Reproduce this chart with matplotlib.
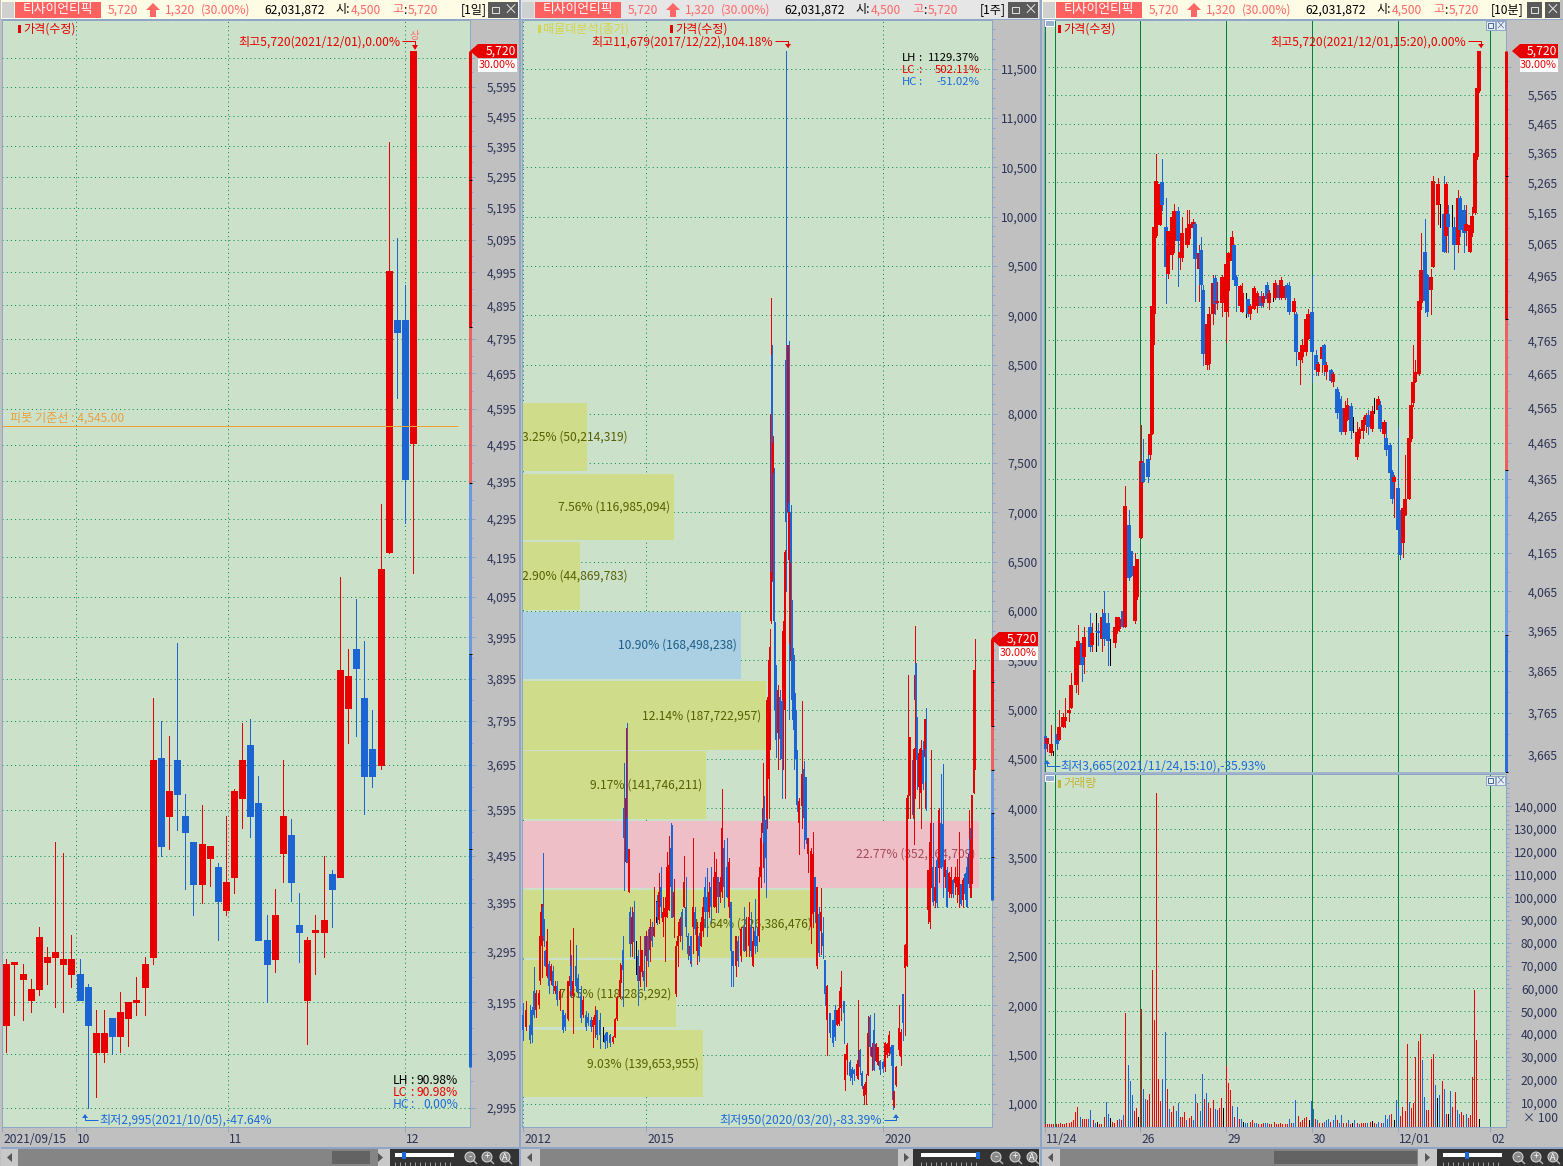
import numpy as np
import matplotlib
matplotlib.use("Agg")
import matplotlib.pyplot as plt
from matplotlib.patches import Rectangle, Polygon, Circle
from matplotlib.ticker import NullFormatter, FixedLocator
from matplotlib.transforms import ScaledTranslation

plt.rcParams['font.family'] = ['Noto Sans CJK KR', 'DejaVu Sans']

# ---------- daily candles (panel 1) ----------
d_open = [3150,3270,3240,3200,3220,3275,3285,3270,3250,3250,3225,3100,3100,3165,3130,3165,3195,3225,3285,3710,3580,3705,3580,3525,3435,3490,3470,3380,3450,3620,3740,3610,3320,3280,3500,3540,3350,3200,3335,3335,3455,3450,3825,3965,3850,3730,3695,4210,4850,4850,4500]
d_high = [3280,3275,3270,3240,3345,3305,3525,3500,3330,3280,3230,3180,3180,3165,3215,3195,3245,3285,3850,3795,3760,3980,3630,3525,3605,3515,3480,3580,3640,3790,3800,3670,3370,3425,3705,3575,3415,3325,3370,3495,3465,4145,3965,4090,3985,3820,4335,5410,5100,4955,5720]
d_low  = [3100,3170,3160,3175,3210,3230,3185,3175,3225,3200,2995,3015,3080,3095,3100,3110,3170,3170,3270,3495,3510,3550,3425,3370,3395,3430,3320,3370,3415,3555,3535,3320,3195,3255,3440,3400,3275,3115,3250,3285,3345,3450,3745,3760,3585,3645,3685,4205,4625,4285,4155]
d_close= [3270,3275,3250,3220,3325,3285,3295,3280,3280,3200,3150,3135,3135,3130,3175,3195,3200,3270,3705,3515,3635,3630,3545,3435,3520,3515,3400,3440,3635,3705,3580,3320,3270,3370,3580,3440,3335,3320,3340,3360,3425,3915,3900,3920,3670,3670,4165,5000,4815,4400,5720]
d_ticks = [2995+100*k for k in range(28)]
d_minor = [3045+100*k for k in range(27)]
d_hidden = [5695]
d_date_pos = [-0.5, 8.55, 27.2, 49.0]
d_date_lab = ['2021/09/15', '10', '11', '12']
pivot_price = 4545

# ---------- weekly candles (panel 2) ----------
w_bar = [0,3,7,9,11,13,16,17,19,20,21,22,24,26,28,30,32,34,37,40,42,45,47,48,50,53,55,58,60,63,65,68,70,72,74,77,80,82,84,87,90,92,94,97,98,100,101,103,104,106,107,109,111,113,115,117,119,121,123,125,127,129,131,133,134,136,138,140,142,144,146,148,149,151,153,155,157,159,161,163,165,167,168,170,172,174,176,178,180,182,184,186,188,191,193,195,197,199,201,204,206,208,210,213,215,218,221,223,226,228,230,232,234,236,238,240,241,243,244,246,247,248,249,250,251,252,253,255,257,259,260,262,263,265,266,267,268,269,270,271,272,273,274,276,279,281,283,285,288,290,292,294,296,298,300,302,304,307,310,312,314,316,318,321,322,324,327,329,331,334,335,337,339,341,343,345,347,349,351,353,355,357,360,362,364,366,368,370,371,373,376,378,380,382,384,385,387,390,391,392,393,394,396,398,400,402,403,405,407,408,410,412,414,416,418,420,422,424,426,428,430,432,434,436,438,440,442,444,446,447,448,449,451,452]
w_open = [1900,1780,1800,1950,2150,1950,2000,2250,2600,3000,2850,2550,2300,2420,2250,2350,2150,2200,2050,1950,1900,1860,2200,2400,2100,2400,2280,2100,1900,1900,1880,1850,1780,1800,1950,1850,1650,1700,1730,1700,1630,1680,1860,2090,2250,2560,4000,3450,3900,3150,2950,2620,2950,2500,2500,2250,2340,2350,2500,2700,2560,2800,2700,2950,3050,2870,3200,2850,2900,2900,2970,3600,3400,2900,2120,2600,2700,2950,3000,3000,2700,2500,2700,2800,2950,2550,2700,2600,2750,3200,3100,2950,3200,3000,3000,3300,3100,3150,3600,3400,3000,3050,2550,2400,2650,2500,2800,2550,2600,2800,2400,2750,2700,2700,3300,3750,4000,3880,3900,4300,5050,5900,8600,6300,7400,5890,5350,4760,5130,5090,5100,5000,8550,7000,7100,5665,7000,6110,5620,5550,5100,5000,4590,3850,4020,4400,4320,3540,2800,2930,3300,2400,2930,2750,2730,2460,1850,1920,1850,1950,1800,1810,1970,2040,1240,1450,1430,1360,1350,1280,1350,1550,1310,1080,1090,1290,1880,1480,1750,1440,1400,1440,1430,1380,1500,1520,1580,1600,980,1190,1550,1480,2120,2380,2400,4000,4120,4490,3900,5100,5470,4930,4220,4150,4590,4520,4600,2970,2850,3200,3400,3060,3470,3390,3850,3840,3300,3370,3150,3130,3270,3240,3200,3120,3230,3070,3330,3400,3230,3690,3100,3240,4150,4500]
w_high = [2020,2040,2000,1985,2390,2155,2155,2950,3030,3550,2880,2560,2780,2450,2420,2400,2250,2250,2170,1950,1920,2250,2660,2510,2790,2610,2320,2200,2100,1940,1920,1880,1880,1990,1950,1920,1780,1720,1730,1710,1690,1870,2100,2430,2410,2700,4454,4810,4860,3590,3000,3000,3060,2650,2560,2700,2560,2700,2750,2780,2880,2850,3200,3060,3120,3340,3400,3100,3100,3560,3720,3850,3830,3280,2650,2850,2900,2980,3520,3300,2730,2650,2700,3700,3000,2850,2730,2900,3100,3300,3390,3250,3400,3560,3490,3300,3300,4200,3680,3700,3500,3050,2550,2700,2700,2800,3000,2900,3050,2950,2800,3080,2800,3400,3850,4454,4120,3900,5130,5620,5820,9170,8700,7780,7450,5890,5450,5250,5200,5100,5900,6620,11679,8700,8740,7000,7075,6110,5620,5550,5170,5000,4590,4100,5090,4480,4320,3700,3600,3760,3300,3200,3000,3190,2900,2460,2210,1920,1850,2000,1950,2150,2350,2040,1510,1620,1450,1380,1360,1420,2050,1560,1340,1200,1300,1890,1900,1620,1920,1620,1580,1450,1440,1630,1620,1740,1600,1600,1130,1390,2000,1760,2120,2620,4100,5350,4720,4490,4610,5850,5470,4930,4600,4690,4680,4900,5020,3370,3680,4590,3850,3400,3500,4000,4350,4450,3480,3400,3350,3400,3280,3400,3490,3760,3230,3290,3340,3500,3980,3800,3700,4130,5400,5720]
w_low  = [1650,1750,1620,1630,1885,1885,1970,2220,2290,2700,2600,2400,2290,2130,2220,2130,2130,2000,1950,1730,1750,1850,2120,2090,1720,2150,2090,1830,1880,1750,1800,1740,1580,1680,1660,1570,1640,1570,1580,1590,1620,1680,1850,2080,2240,1990,3170,3450,3450,3150,2500,2500,2480,2320,2000,2200,2300,2160,2200,2400,2450,2600,2700,2850,2830,2840,2900,2700,2450,2900,2970,2900,2900,2690,2100,2400,2650,2570,3000,2700,2470,2430,2400,2530,2720,2420,2450,2600,2700,2800,2700,2900,2850,3000,2950,2950,3050,3100,3000,3100,2900,2200,2200,2300,2400,2450,2550,2500,2500,2500,2400,2530,2550,2650,3200,3400,3250,3100,3800,3900,4600,5875,6300,6300,5890,4700,4520,4400,4500,4100,4400,4100,6200,6530,4900,5500,5950,4900,4800,4400,4700,4300,3970,3540,3800,3600,3650,3350,2630,2800,2850,2380,2500,2520,2480,2000,1500,1680,1590,1650,1800,1800,1850,1615,1140,1300,1240,1200,1240,1260,1250,1300,1160,1000,1000,1290,1500,1350,1350,1440,1400,1300,1330,1330,1480,1500,1400,950,970,1180,1500,1400,1650,1700,2400,3900,3900,3900,3640,4100,4800,4200,4000,3800,4200,4000,3980,2840,2790,3200,3020,3000,3000,3250,3390,3100,3200,3000,3100,3100,3100,3130,3050,3000,3020,3000,3080,3000,3200,3100,3100,3240,4150,4400]
w_close= [1750,1950,1650,1700,1900,2130,2130,2700,3030,2700,2650,2400,2650,2200,2400,2200,2200,2050,2150,1750,1780,2250,2300,2150,2250,2200,2150,1870,2050,1780,1820,1780,1850,1900,1700,1700,1650,1620,1640,1620,1680,1860,2080,2260,2400,2360,3700,4100,3450,3590,2620,2900,2640,2500,2250,2400,2560,2250,2700,2450,2800,2650,2800,2950,2900,3150,3000,2950,2990,3400,3420,3200,3100,3150,2600,2700,2880,2700,3250,2800,2520,2600,2450,3000,2780,2800,2500,2850,3000,2950,2950,3150,3000,3300,3350,3100,3250,3800,3200,3100,3450,2550,2400,2700,2450,2780,2550,2800,2900,2550,2650,2600,2600,3300,3700,4000,3650,3500,5100,5500,5640,8000,6400,7700,5900,5000,4860,5200,4700,4500,5800,6600,6900,8700,7000,7000,6500,5100,5100,5000,4800,4500,4030,4070,4350,3900,3680,3700,3570,3540,2950,3200,2530,2950,2600,2120,2200,1720,1620,1680,1950,1970,2190,1920,1510,1600,1280,1260,1300,1410,1450,1380,1180,1180,1220,1720,1580,1580,1350,1610,1580,1350,1360,1620,1610,1700,1510,1040,1130,1380,1770,1730,1820,2610,4100,4130,4720,3930,4600,5350,5100,4490,4560,4610,4250,4900,4270,3370,3660,3850,3050,3200,3040,3980,3390,3400,3470,3000,3340,3300,3130,3300,3300,3300,3030,3270,3130,3000,3540,3200,3690,4130,5400,5400]
w_ticks = [1000+500*k for k in range(22)]
w_minor = [900+100*k for k in range(112)]
w_date_pos = [0, 123, 360]
w_date_lab = ['2012', '2015', '2020']

# volume-by-price profile (panel 2)
prof_lo  = [1071,1781,2481,3191,3890,4590,5310,6010,6720,7420]
prof_hi  = [1750,2460,3170,3870,4580,5290,5990,6700,7390,8110]
prof_pct = [9.03,7.65,14.64,22.77,9.17,12.14,10.90,2.90,7.56,3.25]
prof_vol = ['139,653,955','118,286,292','226,386,476','352,164,709','141,746,211','187,722,957','168,498,238','44,869,783','116,985,094','50,214,319']
prof_kind= ['g','g','g','p','g','g','b','g','g','g']

# ---------- 10-minute candles (panel 3) ----------
m_bar = [0,1,3,4,6,7,9,10,12,13,15,16,18,19,22,23,25,26,28,29,31,32,34,35,36,38,39,41,42,44,45,47,48,50,51,52,53,54,56,57,59,60,62,63,65,66,67,69,70,72,73,75,76,77,79,80,82,83,84,86,88,89,91,92,93,95,96,98,99,100,102,103,105,106,108,109,111,112,114,115,117,118,119,121,122,124,125,127,128,130,132,133,135,136,137,139,140,142,143,144,146,147,149,150,152,153,155,156,157,159,160,162,163,165,166,168,169,170,171,172,173,174,175,177,178,179,180,182,183,185,186,188,189,191,192,194,195,196,198,199,201,202,204,205,207,208,209,210,211]
m_open = [3710,3690,3670,3670,3715,3700,3730,3745,3765,3775,3830,3880,3935,3900,3975,3930,3965,3965,3945,4010,3985,3945,3935,3965,3970,4015,3975,4240,4170,3990,4050,4205,4410,4420,4430,4490,4845,5090,5125,5265,5120,4970,5030,5075,5170,5020,5020,5060,5080,5115,5130,4985,5045,4920,4690,4695,4845,4955,4880,4880,4850,4915,5010,5060,4960,4870,4850,4890,4890,4845,4860,4870,4900,4880,4935,4880,4895,4895,4935,4895,4895,4935,4930,4850,4845,4705,4715,4730,4770,4850,4720,4670,4710,4750,4670,4675,4640,4620,4590,4565,4495,4530,4570,4510,4425,4475,4500,4515,4545,4505,4570,4560,4575,4490,4480,4460,4385,4355,4395,4340,4280,4190,4265,4310,4475,4580,4640,4665,4880,5040,4965,4920,4990,5190,5160,5160,5090,5160,5150,5120,5060,5215,5175,5105,5040,5100,5165,5350,5580]
m_high = [3710,3705,3735,3675,3720,3770,3765,3800,3815,3860,3925,3980,3945,3975,4010,3985,4010,3985,4020,4065,4010,3945,3995,4000,4000,4030,4345,4280,4170,4165,4150,4515,4475,4460,4495,4870,5120,5360,5265,5345,5215,5105,5165,5195,5185,5065,5150,5175,5175,5145,5135,5060,5085,4935,4825,4865,4965,4965,4945,4965,5000,5040,5105,5060,4965,4935,4940,4910,4890,4875,4930,4915,4915,4910,4945,4920,4915,4950,4945,4960,4935,4940,4945,4895,4850,4750,4770,4840,4860,4965,4735,4700,4750,4755,4700,4680,4670,4625,4610,4600,4585,4595,4580,4540,4525,4510,4540,4550,4560,4570,4595,4600,4585,4530,4525,4465,4390,4375,4395,4510,4280,4285,4430,4490,4590,4750,4705,4885,5100,5145,4970,4985,5285,5280,5195,5285,5265,5190,5190,5150,5240,5220,5190,5190,5130,5185,5380,5590,5720]
m_low  = [3670,3675,3665,3665,3680,3700,3730,3730,3745,3775,3815,3810,3840,3860,3915,3915,3915,3930,3915,3930,3880,3880,3925,3960,3965,3975,3975,4095,4105,3985,4045,4205,4355,4355,4420,4490,4755,5085,5125,5175,4880,4955,4985,5040,4930,4985,5010,5055,5065,5075,4885,4885,4890,4690,4680,4680,4815,4845,4860,4840,4760,4840,5010,4945,4855,4860,4850,4835,4840,4830,4860,4850,4865,4870,4885,4860,4885,4890,4890,4890,4890,4890,4845,4840,4690,4635,4700,4720,4770,4640,4660,4660,4670,4660,4650,4640,4630,4535,4530,4490,4490,4530,4480,4495,4420,4465,4480,4495,4490,4500,4550,4555,4500,4480,4430,4375,4300,4260,4395,4220,4150,4155,4265,4310,4470,4570,4640,4660,4860,4850,4840,4845,4990,5130,5120,5040,5040,5040,5120,4985,5040,5090,5040,5060,5040,5090,5160,5345,5575]
m_close= [3680,3705,3690,3670,3690,3730,3755,3755,3770,3830,3925,3940,3880,3950,3925,3960,3965,3960,4000,3945,3940,3945,3975,4000,3995,3975,4290,4100,4105,4130,4150,4415,4355,4370,4490,4870,5120,5270,5260,5190,4990,5105,5150,5170,5075,5040,5100,5115,5130,5135,5015,5035,4935,4725,4815,4845,4940,4875,4885,4960,5000,5035,5085,4950,4930,4930,4910,4890,4845,4870,4925,4910,4870,4900,4890,4910,4895,4940,4895,4950,4930,4895,4850,4885,4730,4730,4750,4830,4845,4730,4675,4695,4745,4690,4690,4645,4665,4550,4555,4495,4565,4575,4500,4510,4495,4505,4530,4545,4510,4555,4570,4590,4505,4525,4445,4380,4310,4370,4395,4225,4160,4285,4310,4480,4575,4640,4670,4885,4980,4885,4850,4960,5270,5260,5160,5040,5260,5120,5150,5060,5215,5110,5100,5130,5125,5155,5365,5590,5720]
m_ticks = [3665+100*k for k in range(21)]
m_minor = [3715+100*k for k in range(20)]
m_hidden = [5665]
m_date_pos = [0, 46.5, 88.3, 130, 171.8, 216.5]
m_date_lab = ['11/24', '26', '29', '30', '12/01', '02']
m_session_lines = [0, 5.2, 46.5, 88.3, 130, 171.8, 216.5]

# volume, in thousands
vol_k = [.3,.3,.3,.3,.3,.3,.3,.8,.4,.3,
 .8,.8,1.2,2,5.5,8,3.5,2.5,2.5,2.5,
 2.5,6.5,2,.8,1.5,.5,.5,3.5,10,5,
 3,1.5,1,2,2.5,2,4.5,49,26.5,19.5,
 13,6,7.5,3.5,51,16,11.5,11,13.5,68,
 46,146,20,10.5,20,41,16,7,5.5,8.5,
 6,9.5,3.5,3.5,5.5,2,3,4,2,13.5,
 9.5,6,22.5,11.5,14,9.5,7.5,11,7,6.5,
 7.5,12,7.5,26,18.5,15.5,8.5,3.5,8,2.5,
 2.5,1.5,1,1,1.5,2,.8,.8,.4,.4,
 .8,.8,.8,.4,.4,1.5,.6,.4,1,.4,
 .5,.5,2.5,1,1,11,4,1.5,2,3,
 3.5,2,10.5,7,2.5,2,.8,1,1.5,2,
 2.5,1.5,2,4.5,2,1,4.5,1,1,2,
 .3,1,2,1,.6,.8,.8,.8,.8,1.5,
 1.8,1,.5,1.2,.8,1,4.5,2.5,4.5,5,
 2,11,8,4,8,6,35.5,10,7.5,9.5,
 30,37,40,28.5,12.5,6.5,6.5,29,31,17.5,
 12,13,19.5,16,5,5,15,8,14.5,6.5,
 5,5.5,4.5,5,3,4.5,21,59.5,37.5,2.5]
vol_dir = ('RRRRRRRRRR' 'RRRRRRBRRR' 'BBRBKRRRBB' 'KRRRBRBRBB' 'BRRKRBBRRR'
           'RRRRBBRBRR' 'BBRRRBRRBB' 'RBBRBRRRBB' 'RRKRRRBRBR' 'BKBBRRBBRR'
           'RBBRRRRRRR' 'RRBRBBRRRR' 'RKBBRBRRBB' 'BRBBRBBRRB' 'RKBRBRRRBR'
           'KRBBRBBBBR' 'KBBRRRRBRR' 'RRRBBRRRRB' 'KBRBRKBRRB' 'BRRBRRRRRK')
vol_ticks = [10000*k for k in range(1, 15)]
vol_minor = [2000*k for k in range(1, 76)]

gauge_levels = [5720, 5285, 4830, 4390, 3955, 3510, 3070]
gauge_colors = ['#e80000', '#e60a0a', '#ee5f5f', '#6d98e4', '#2a6dd6', '#1c66d2']

# ---------- style ----------
W, H = 1563, 1166
BG = '#cce1c9'; GRAY = '#c0c0c0'; EDGE = '#8fa6c8'; GRID = '#008a4c'
UP = '#e80000'; DOWN = '#1c64d2'; DOJI = '#000000'; LAB = '#2c3355'
FS = 8.7
PX = 0.72

fig = plt.figure(figsize=(W/100, H/100), dpi=100, facecolor=GRAY)

def px_axes(x0, y0, x1, y1, z=1):
    ax = fig.add_axes([x0/W, 1-y1/H, (x1-x0)/W, (y1-y0)/H], zorder=z)
    ax.set_facecolor(BG)
    for s in ax.spines.values():
        s.set_color(EDGE); s.set_linewidth(PX)
    return ax

def style_y(ax, ticks, minor, rpx, hidden=()):
    ax.yaxis.tick_right()
    ax.set_yticks(ticks)
    ax.set_yticklabels(['' if t in hidden else f'{t:,}' for t in ticks], fontsize=FS, color=LAB)
    ax.yaxis.set_minor_locator(FixedLocator(minor))
    ax.yaxis.set_minor_formatter(NullFormatter())
    ax.tick_params(axis='y', which='major', length=5*PX, width=PX, color=EDGE, pad=(rpx-5)*PX)
    ax.tick_params(axis='y', which='minor', length=3*PX, width=PX, color=EDGE)
    for l in ax.get_yticklabels():
        l.set_ha('right')
    ax.grid(axis='y', which='major', color=GRID, lw=PX, ls=(0, (1, 3.2)))
    ax.set_axisbelow(True)

def style_x(ax, pos, labels, vgrid=True):
    ax.set_xticks(pos)
    ax.set_xticklabels(labels, fontsize=FS, color=LAB, ha='left')
    ax.tick_params(axis='x', length=5*PX, width=PX, color=EDGE, pad=1)
    off = ScaledTranslation(1/100, 0, fig.dpi_scale_trans)
    for l in ax.get_xticklabels():
        l.set_transform(l.get_transform()+off)
    if vgrid:
        ax.grid(axis='x', color=GRID, lw=PX, ls=(0, (1, 3.2)))

def candles(ax, x, o, h, l, c, wick, body, z=3):
    xs, lo, hi, cols, lws = [], [], [], [], []
    for xi, oi, hi_, li, ci in zip(x, o, h, l, c, strict=True):
        col = UP if ci > oi else DOWN if ci < oi else DOJI
        xs += [xi, xi]; lo += [li, min(oi, ci)]; hi += [hi_, max(oi, ci)]
        cols += [col, col]; lws += [wick*PX, body*PX]
    ax.vlines(xs, lo, hi, colors=cols, linewidths=lws, capstyle='butt', zorder=z,
              antialiased=False, snap=True)

def gauge(ax, floor):
    lv = np.maximum(gauge_levels, floor)
    ax.vlines([1.0]*6, lv[1:], lv[:-1], colors=gauge_colors, linewidths=3*PX,
              transform=ax.get_yaxis_transform(), clip_on=False, capstyle='butt', zorder=6)
    ax.hlines(lv[1:-1], 0.9985, 1.0045, colors='#000000', linewidths=PX,
              transform=ax.get_yaxis_transform(), clip_on=False, zorder=7)

# ---------- panel 1 ----------
ax1 = px_axes(2, 20, 470, 1127)
ax1.set_yscale('log')
candles(ax1, np.arange(len(d_open)), d_open, d_high, d_low, d_close, 1, 7)
ax1.hlines(pivot_price, 0, 0.974, colors='#f0a030', linewidths=PX, transform=ax1.get_yaxis_transform(), zorder=4)
style_y(ax1, d_ticks, d_minor, 47, d_hidden)
style_x(ax1, d_date_pos, d_date_lab)
ax1.set_xlim(-0.53, 57.0)
ax1.set_ylim(2960, 5829)
gauge(ax1, 2960)

# ---------- panel 2 ----------
ax2 = px_axes(522, 20, 992, 1127)
WEEKS_PER_PCT = 20.07
pcol = {'g': '#cfdc8a', 'b': '#abcfe3', 'p': '#efbfc8'}
tcol = {'g': '#566000', 'b': '#1d5d88', 'p': '#a84858'}
for lo_, hi_, pct, vol, k in zip(prof_lo, prof_hi, prof_pct, prof_vol, prof_kind):
    ax2.barh((lo_+hi_)/2, pct*WEEKS_PER_PCT, height=hi_-lo_, left=-1, color=pcol[k], zorder=1.5)
    s = f'{pct:.2f}% ({vol})'
    if pct < 5:
        ax2.text(-1, (lo_+hi_)/2, s, fontsize=FS, color=tcol[k], ha='left', va='center', zorder=1.7)
    else:
        ax2.text(-1+pct*WEEKS_PER_PCT-4, (lo_+hi_)/2, s, fontsize=FS, color=tcol[k], ha='right', va='center', zorder=1.7)
candles(ax2, w_bar, w_open, w_high, w_low, w_close, 1, 2)
style_y(ax2, w_ticks, w_minor, 46)
style_x(ax2, w_date_pos, w_date_lab)
ax2.set_xlim(-1, 469)
ax2.set_ylim(767, 11994)
gauge(ax2, 767)

# ---------- panel 3 ----------
ax3 = px_axes(1044, 20, 1506, 772)
ax3.set_yscale('log')
for xv in m_session_lines:
    ax3.axvline(xv, color='#00803c', lw=PX, zorder=1)
candles(ax3, m_bar, m_open, m_high, m_low, m_close, 1, 2.5)
style_y(ax3, m_ticks, m_minor, 52, m_hidden)
ax3.set_xticks([])
ax3.set_xlim(-0.33, 224.3)
ax3.set_ylim(3626, 5835)
gauge(ax3, 3626)

ax4 = px_axes(1044, 774, 1506, 1127)
for xv in m_session_lines:
    ax4.axvline(xv, color='#00803c', lw=PX, zorder=1)
vbars = np.linspace(0, 211, len(vol_k))
cmap = {'R': '#f00000', 'B': '#1c64d2', 'K': '#000000'}
VOL_FLOOR = -880
ax4.vlines(vbars, VOL_FLOOR, np.array(vol_k)*1000, colors=[cmap[c] for c in vol_dir],
           linewidths=PX, capstyle='butt', zorder=3, antialiased=False, snap=True)
style_y(ax4, vol_ticks, vol_minor, 52)
style_x(ax4, m_date_pos, m_date_lab, vgrid=False)
ax4.set_xlim(-0.33, 224.3)
ax4.set_ylim(VOL_FLOOR, 154150)

# ---------- chrome overlay (pixel coordinates) ----------
ch = fig.add_axes([0, 0, 1, 1], zorder=20)
ch.set_xlim(0, W); ch.set_ylim(H, 0); ch.axis('off'); ch.patch.set_alpha(0)

def R(x0, y0, x1, y1, c, z=1, ec='none'):
    ch.add_patch(Rectangle((x0, y0), x1-x0, y1-y0, fc=c, ec=ec, lw=PX, zorder=z))
def T(x, y, s, c='#000000', ha='left', fs=FS, z=5):
    ch.text(x, y, s, color=c, ha=ha, va='center', fontsize=fs, zorder=z)
def P(pts, c, z=4):
    ch.add_patch(Polygon(pts, closed=True, fc=c, ec='none', zorder=z))
def L(xs, ys, c, lw=1, z=4):
    ch.plot(xs, ys, color=c, lw=lw*PX, zorder=z, solid_capstyle='butt')

TR = '#ff6666'
def title(off, bg, tag, tag_x, btn_x):
    x0 = off+1
    R(x0, 0, off+519, 19, bg)
    R(x0+1, 2, off+14, 18, '#d0d0d0')
    R(off+15, 2, off+101, 18, '#ff6060')
    T(off+58, 10, '티사이언티픽', '#ffffff', 'center', 9.2)
    T(off+108, 10, '5,720', TR)
    P([(off+153, 3), (off+160, 10), (off+156, 10), (off+156, 17), (off+150, 17), (off+150, 10), (off+146, 10)], TR)
    T(off+165, 10, '1,320', TR)
    T(off+201, 10, '(30.00%)', TR)
    T(off+264, 10, '62,031,872', '#000000')
    T(off+335, 10, '시:', '#000000')
    T(off+351, 10, '4,500', TR)
    T(off+392, 10, '고', TR)
    T(off+403, 10, ':', '#000000')
    T(off+408, 10, '5,720', TR)
    T(tag_x, 10, tag, '#000000', 'right')
    for bx in btn_x:
        R(bx, 2, bx+15, 18, '#5a5a5a')
    R(btn_x[0]+4, 7, btn_x[0]+11, 13, 'none', ec='#e0e0e0', z=6)
    T(btn_x[1]+7.5, 10, '×', '#e8e8e8', 'center', 10)

title(0, '#fffce6', '[1일]', 487, [488, 503])
title(520, '#e6e6e6', '[1주]', 1006, [1008, 1023])
title(1041, '#fffce6', '[10분]', 1524, [1527, 1545])
for xv in (519.5, 1040.5):
    R(xv-1, 0, xv+1, 1166, EDGE, z=2)
for x0, x1 in ((1, 519), (521, 1040), (1042, 1563)):
    R(x0, 19, x1, 20, EDGE, z=2)
    R(x0, 1147, x1, 1148.5, EDGE, z=2)
R(1044, 772, 1506, 774, '#a0b4cc', z=2)

def legend(x, y, s, c):
    R(x, y-4, x+3, y+4, c)
    T(x+5, y, s, c)

red = '#e80000'; blue = '#1c6ad8'; yel = '#c4b438'
legend(18, 29, '가격(수정)', red)
T(400, 42, '최고5,720(2021/12/01),0.00%', red, 'right')
L([402, 415, 415], [41, 41, 47], red)
P([(412, 45), (418, 45), (415, 50)], red)
T(414, 36, '상', '#ff7070', 'center', 7.5)
T(10, 418, '피봇 기준선 : 4,545.00', '#e8a040')
def stats(x0, xc, xr, ys, labs, fs):
    for y, (a, v), c in zip(ys, labs, ('#000000', '#e80000', blue)):
        T(x0, y, a, c, fs=fs); T(xc, y, ':', c, fs=fs); T(xr, y, v, c, 'right', fs=fs)
stats(393, 410, 458, (1080, 1092, 1104), (('LH', '90.98%'), ('LC', '90.98%'), ('HC', '0.00%')), FS)
T(99, 1120, '최저2,995(2021/10/05),-47.64%', blue)
L([85, 85, 98], [1115, 1120, 1120], blue)
P([(82, 1118), (88, 1118), (85, 1114)], blue)

T(543, 29, '매물대분석(종가)', '#d6d24a')
R(538, 25, 541, 33, '#d6d24a')
legend(670, 29, '가격(수정)', red)
T(773, 42, '최고11,679(2017/12/22),104.18%', red, 'right')
L([775, 788, 788], [41, 41, 47], red)
P([(785, 44), (791, 44), (788, 48)], red)
stats(902, 918, 980, (58, 70, 82), (('LH', '1129.37%'), ('LC', '502.11%'), ('HC', '-51.02%')), 8.2)
T(882, 1120, '최저950(2020/03/20),-83.39%', blue, 'right')
L([884, 896, 896], [1120, 1120, 1115], blue)
P([(893, 1118), (899, 1118), (896, 1114)], blue)

legend(1058, 29, '가격(수정)', red)
T(1466, 42, '최고5,720(2021/12/01,15:20),0.00%', red, 'right')
L([1468, 1481, 1481], [41, 41, 47], red)
P([(1478, 44), (1484, 44), (1481, 48)], red)
T(1060, 766, '최저3,665(2021/11/24,15:10),-35.93%', blue)
L([1047, 1047, 1060], [761, 766, 766], blue)
P([(1044, 764), (1050, 764), (1047, 760)], blue)
legend(1058, 784, '거래량', yel)
T(1558, 1118, '× 100', LAB, 'right')
for y0 in (20, 775):
    R(1045, y0, 1054, y0+6, '#9ab0d0', ec='#ffffff', z=4)
    for bx in (1486, 1496):
        R(bx, y0+1, bx+9, y0+10, '#e8eef4', ec='#8fa6c8', z=4)
    R(1488, y0+3, 1493, y0+8, 'none', ec='#4a6a96', z=5)
    T(1500.5, y0+5.5, '×', '#4a6a96', 'center', 7)

def pricebox(x0, x1, y):
    P([(x0-8, y), (x0, y-7), (x0, y+7)], '#e80000')
    R(x0, y-7, x1, y+7, '#e80000')
    T(x1-1, y, '5,720', '#ffffff', 'right')
    R(x0, y+8, x1, y+21, '#ffffff')
    T(x1-1, y+14.5, '30.00%', '#e80000', 'right', 7.9)
pricebox(478, 517, 51)
pricebox(999, 1038, 639)
pricebox(1520, 1558, 51)

def scroll(off_l, arrow_l, tr0, tr1, thumb, arrow_r, dv, dark1, sl0, sl1, knob, icons):
    R(off_l, 1149, dark1, 1166, '#c8c8c8')
    P([(arrow_l+5, 1153), (arrow_l+5, 1162), (arrow_l, 1157.5)], '#555555')
    R(tr0, 1149, tr1, 1166, '#858585')
    if thumb:
        R(thumb[0], 1151, thumb[1], 1164, '#636363')
    P([(arrow_r, 1153), (arrow_r, 1162), (arrow_r+5, 1157.5)], '#555555')
    R(dv, 1149, dark1, 1166, '#333333')
    R(sl0, 1153, sl1, 1157, '#ffffff', z=3)
    R(knob-2, 1152, knob+2, 1159, '#1c6ad8', z=4)
    for tx in range(sl0, sl1+1, 5):
        L([tx, tx], [1162, 1166], '#9a9a9a', z=3)
    for ix, sym in zip(icons, '-+A'):
        ch.add_patch(Circle((ix, 1157), 5, fc='#8a8a8a', ec='#d8d8d8', lw=PX, zorder=4))
        T(ix, 1157, sym, '#ffffff', 'center', 6.5, z=6)
        L([ix+3, ix+7], [1160, 1164], '#b0b0b0', 1.5, z=3)
scroll(1, 7, 18, 378, (332, 370), 378, 390, 519, 395, 454, 404, (470, 487, 505))
scroll(521, 527, 540, 898, None, 904, 913, 1039, 921, 980, 978, (996, 1015, 1032))
scroll(1042, 1048, 1060, 1418, (1274, 1417), 1425, 1437, 1563, 1443, 1502, 1467, (1518, 1536, 1553))

fig.savefig('out.png', dpi=100, facecolor=GRAY)
